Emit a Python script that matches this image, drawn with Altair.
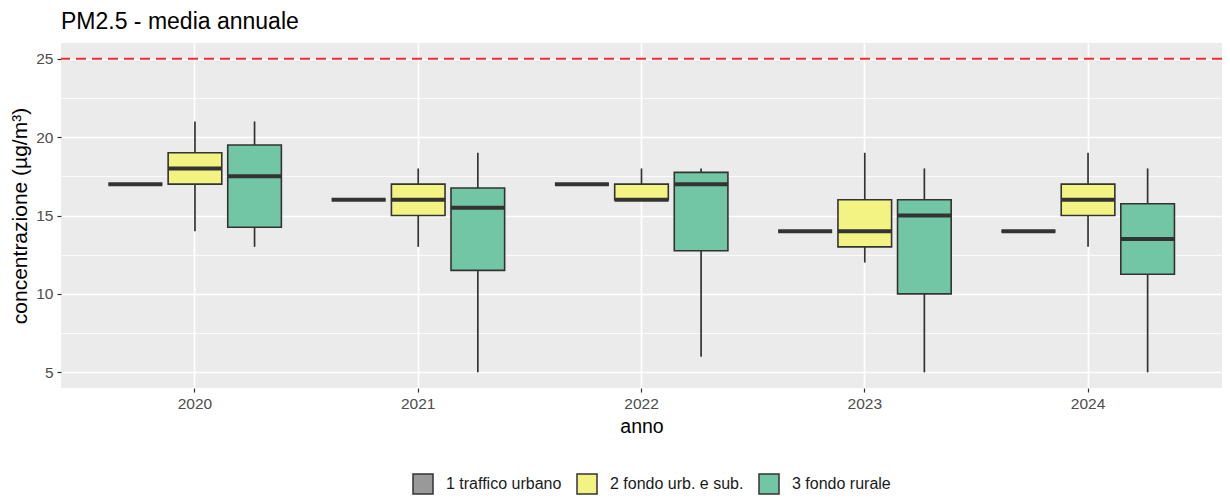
import altair as alt
import pandas as pd

anni = ["2020", "2021", "2022", "2023", "2024"]
gruppi = ["1 traffico urbano", "2 fondo urb. e sub.", "3 fondo rurale"]

# statistics per group, one value per year
traffico_min = [17, 16, 17, 14, 14]
traffico_q1 = [17, 16, 17, 14, 14]
traffico_med = [17, 16, 17, 14, 14]
traffico_q3 = [17, 16, 17, 14, 14]
traffico_max = [17, 16, 17, 14, 14]

fondo_urb_min = [14, 13, 16, 12, 13]
fondo_urb_q1 = [17, 15, 16, 13, 15]
fondo_urb_med = [18, 16, 16, 14, 16]
fondo_urb_q3 = [19, 17, 17, 16, 17]
fondo_urb_max = [21, 18, 18, 19, 19]

rurale_min = [13, 5, 6, 5, 5]
rurale_q1 = [14.25, 11.5, 12.75, 10, 11.25]
rurale_med = [17.5, 15.5, 17, 15, 13.5]
rurale_q3 = [19.5, 16.75, 17.75, 16, 15.75]
rurale_max = [21, 19, 18, 18, 18]

soglia = [25]
y_ticks = [5, 7.5, 10, 12.5, 15, 17.5, 20, 22.5, 25]

colori = ["#999999", "#F3F383", "#72C6A6"]

stats = [
    (traffico_min, traffico_q1, traffico_med, traffico_q3, traffico_max),
    (fondo_urb_min, fondo_urb_q1, fondo_urb_med, fondo_urb_q3, fondo_urb_max),
    (rurale_min, rurale_q1, rurale_med, rurale_q3, rurale_max),
]
rows = []
for g, (mn, q1, md, q3, mx) in zip(gruppi, stats):
    for i, a in enumerate(anni):
        rows.append({"anno": a, "gruppo": g, "min": mn[i], "q1": q1[i],
                     "med": md[i], "q3": q3[i], "max": mx[i]})
df = pd.DataFrame(rows)

FONT = "Liberation Sans"

x_enc = alt.X("anno:N", sort=anni,
              scale=alt.Scale(paddingInner=0, paddingOuter=0.1),
              axis=alt.Axis(title="anno", labelAngle=0))
xoff_enc = alt.XOffset("gruppo:N", sort=gruppi,
                       scale=alt.Scale(paddingInner=0.1, paddingOuter=0.4233))
y_scale = alt.Scale(domain=[4, 26], nice=False, zero=False)
y_axis = alt.Axis(
    title="concentrazione (µg/m³)",
    values=y_ticks,
    labelExpr="datum.value % 5 === 0 ? datum.label : ''",
    tickOpacity={"condition": {"test": "datum.value % 5 === 0", "value": 1}, "value": 0},
    gridWidth={"condition": {"test": "datum.value % 5 === 0", "value": 1.7}, "value": 0.8},
)

base = alt.Chart(df).encode(x=x_enc, xOffset=xoff_enc)

whisker = base.mark_rule(color="#333333", strokeWidth=1.7).encode(
    y=alt.Y("min:Q", scale=y_scale, axis=y_axis),
    y2="max:Q",
)

box = base.mark_bar(stroke="#333333", strokeWidth=1.6, opacity=1).encode(
    y=alt.Y("q1:Q", scale=y_scale, axis=y_axis),
    y2="q3:Q",
    fill=alt.Fill("gruppo:N", sort=gruppi,
                  scale=alt.Scale(domain=gruppi, range=colori),
                  legend=alt.Legend(title=None, orient="none", direction="horizontal",
                                    legendX=351, legendY=430)),
)

median = base.mark_tick(color="#333333", thickness=4, size=54, opacity=1).encode(
    y=alt.Y("med:Q", scale=y_scale, axis=y_axis),
)

ref = alt.Chart(pd.DataFrame({"soglia": soglia})).mark_rule(
    color="#F03030", strokeWidth=2, strokeDash=[10, 6]
).encode(y=alt.Y("soglia:Q", scale=y_scale))

chart = alt.layer(whisker, box, median, ref).properties(
    width=1161,
    height=345,
    padding={"left": 53, "top": 35, "right": 0, "bottom": 110},
    autosize=alt.AutoSizeParams(type="none"),
    title=alt.Title("PM2.5 - media annuale", anchor="start", frame="group",
                    fontSize=23, font=FONT, fontWeight="normal", color="#000000",
                    offset=9),
).configure_view(
    fill="#EBEBEB", stroke="#EBEBEB", strokeWidth=0
).configure_axis(
    labelFont=FONT, titleFont=FONT, labelFontSize=15.5, labelColor="#4D4D4D",
    titleFontSize=19.5, titleColor="#000000", titleFontWeight="normal",
    tickColor="#333333", tickSize=4, tickWidth=1.2, domain=False,
    grid=True, gridColor="#FFFFFF", gridWidth=1.7, labelPadding=4,
).configure_axisX(
    titlePadding=6,
).configure_axisY(
    titlePadding=5, titleFontSize=21,
).configure_legend(
    labelFont=FONT, labelFontSize=16, labelColor="#1A1A1A",
    symbolType="square", symbolSize=400, symbolStrokeColor="#333333",
    symbolStrokeWidth=1.5, symbolOpacity=1, symbolFillColor="#999999",
    labelOffset=12, columnPadding=12,
)

chart.save("out.html", embed_options={"renderer": "svg", "actions": False})
